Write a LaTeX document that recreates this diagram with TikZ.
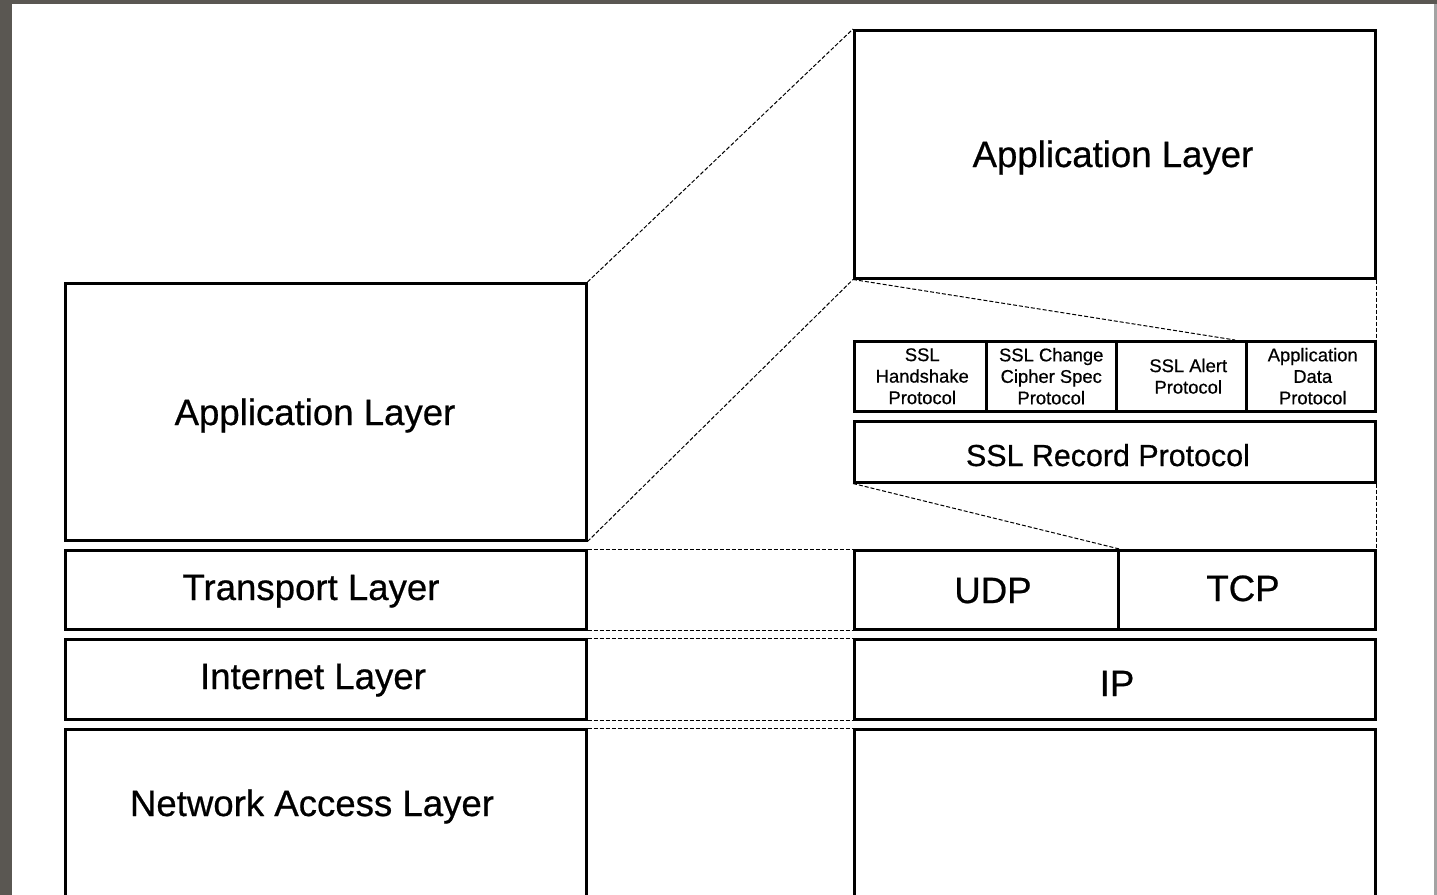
\documentclass[tikz,border=0pt]{standalone}
\usepackage{fontspec}
\setmainfont{Liberation Sans}[FakeBold=0.6,BoldFont=Liberation Sans]
\usetikzlibrary{calc}
\definecolor{frameD}{HTML}{5A5752}
\definecolor{frameR}{HTML}{A3A3A3}
\newcommand\bx[6][]{\node[box,#1,minimum width={((#5)-(#3))*0.5pt},minimum height={((#6)-(#4))*0.5pt}] (#2) at (#3,#4) {};}
\begin{document}
\begin{tikzpicture}[x=0.5pt,y=-0.5pt,
  box/.style={draw=black,line width=1.25pt,rectangle,inner sep=0pt,anchor=north west,fill=white},
  big/.style={font=\fontsize{18.3pt}{21pt}\selectfont\bfseries,anchor=base,inner sep=0pt},
  mid/.style={font=\fontsize{15.2pt}{18pt}\selectfont\bfseries,anchor=base,inner sep=0pt},
  small/.style={font=\fontsize{9.2pt}{10.75pt}\selectfont\bfseries,align=center},
  dline/.style={line width=0.5pt,dash pattern=on 2pt off 1pt}]
\clip (0,0) rectangle (1437,895);
\fill[frameD] (0,0) rectangle (1437,895);
\fill[frameR] (1420,4) rectangle (1437,895);
\fill[white] (12,4) rectangle (1434,895);
% left column
\bx{lApp}{64}{282}{585}{539}
\bx{lTr}{64}{549}{585}{628}
\bx{lIn}{64}{638}{585}{718}
\bx{lNet}{64}{728}{585}{910}
% right column
\bx{rApp}{853}{29}{1374}{277}
\bx{rec}{853}{420}{1374}{481}
\bx{udp}{853}{549}{1117}{628}
\bx{tcp}{1117}{549}{1374}{628}
\bx{ip}{853}{638}{1374}{718}
\bx{bot}{853}{728}{1374}{910}
\node[box,small,minimum width=66pt,minimum height=35pt] (s1) at (853,340) {\hspace*{2pt}SSL\\\hspace*{2pt}Handshake\\\hspace*{2pt}Protocol};
\node[box,small,minimum width=65pt,minimum height=35pt] (s2) at (985,340) {SSL Change\\Cipher Spec\\Protocol};
\node[box,small,minimum width=65pt,minimum height=35pt] (s3) at (1115,340) {\hspace*{7pt}SSL Alert\\\hspace*{7pt}Protocol};
\node[box,small,minimum width=64.5pt,minimum height=35pt] (s4) at (1245,340) {\hspace*{2pt}Application\\\hspace*{2pt}Data\\\hspace*{2pt}Protocol};
% labels
\node[big] (tApp) at (315,425) {Application Layer};
\node[big] (tTr) at (311,600) {Transport Layer};
\node[big] (tIn) at (313,689) {Internet Layer};
\node[big] (tNet) at (312,816) {Network Access Layer};
\node[big] (tRApp) at (1113,167) {Application Layer};
\node[mid] (tRec) at (1108,466) {SSL Record Protocol};
\node[big] (tUdp) at (993,603) {UDP};
\node[big] (tTcp) at (1243,601) {TCP};
\node[big] (tIp) at (1117,696) {IP};
% dashed connectors
\coordinate (c1) at (1235,340);
\draw[dline] (lApp.north east) -- (rApp.north west);
\draw[dline] (lApp.south east) -- (rApp.south west);
\draw[dline] (rApp.south west) -- (c1);
\draw[dline] (rApp.south east) -- (s4.north east);
\draw[dline] (rec.south west) -- (udp.north east);
\draw[dline] (rec.south east) -- (tcp.north east);
\draw[dline] (lTr.north east) -- (udp.north west);
\draw[dline] (lTr.south east) -- (udp.south west);
\draw[dline] (lIn.north east) -- (ip.north west);
\draw[dline] (lIn.south east) -- (ip.south west);
\draw[dline] (lNet.north east) -- (bot.north west);
\end{tikzpicture}
\end{document}
